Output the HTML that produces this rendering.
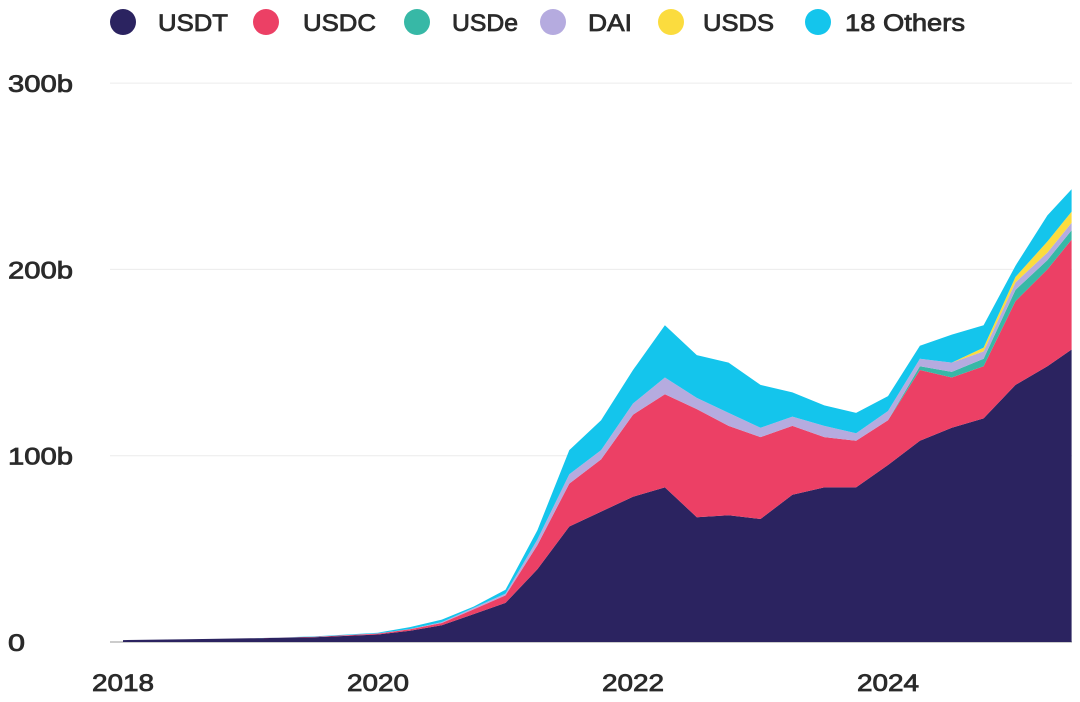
<!DOCTYPE html>
<html><head><meta charset="utf-8"><style>
html,body{margin:0;padding:0;background:#fff;}
body{width:1080px;height:697px;overflow:hidden;font-family:"Liberation Sans",sans-serif;}
svg text{stroke:#2a2a2a;stroke-width:0.8px;}
</style></head><body>
<svg id="chart" width="1080" height="697" xmlns="http://www.w3.org/2000/svg"></svg>
<script>
const years = [2018,2018.5,2019,2019.5,2020,2020.25,2020.5,2020.75,2021,2021.25,2021.5,2021.75,2022,2022.25,2022.5,2022.75,2023,2023.25,2023.5,2023.75,2024,2024.25,2024.5,2024.75,2025,2025.25,2025.44];
const usdt = [1,1.5,2,2.5,4,6,9,15,21,39,62,70,78,83,67,68,66,79,83,83,95,108,115,120,138,148,157];
const usdc = [0,0,0,0.3,0.5,0.8,1.2,2.5,4,13,23,28,44,50,58,48,44,37,27,25,24,38,27,28,45,52,59];
const usde = [0,0,0,0,0,0,0,0,0,0,0,0,0,0,0,0,0,0,0,0,0,2,3,4,6,5,5];
const dai = [0,0,0,0,0.1,0.2,0.5,0.8,1,3,5,5,6,9,6,7,5,5,6,4,5,4,5,4,4,4,4];
const usds = [0,0,0,0,0,0,0,0,0,0,0,0,0,0,0,0,0,0,0,0,0,0,0,2,3,6,6];
const others = [0,0,0,0.2,0.4,1,1.3,0.7,2,5,13,16,18,28,23,27,23,13,11,11,8,7,15,12,6,14,12];
const seriesNames = ["USDT","USDC","USDe","DAI","USDS","18 Others"];
const seriesColors = ["#2b2360","#ec4065","#37b8a6","#b5abdf","#fbdc3e","#14c5ec"];
const yTicks = [0,100,200,300];
const xTicks = [2018,2020,2022,2024];

const svg = document.getElementById('chart');
const NS = "http://www.w3.org/2000/svg";
const x = v => 123 + (v - 2018) * 127.5;
const y = v => 642 - v * 1.863;
function mk(tag, attrs){const e=document.createElementNS(NS,tag);for(const k in attrs)e.setAttribute(k,attrs[k]);svg.appendChild(e);return e;}

yTicks.forEach(t=>{
  const g = mk('line',{x1:110,x2:1072,y1:y(t),y2:y(t),stroke:t===0?'#bbb':'#ececec','stroke-width':t===0?1.5:1});
  
  
  const l = mk('text',{x:8,y:y(t)+9,'font-size':24,fill:'#2a2a2a',textLength:t===0?17:65,lengthAdjust:'spacingAndGlyphs'});
  l.textContent = t===0?'0':t+'b';
  
  
});
xTicks.forEach(t=>{
  const l = mk('text',{x:x(t)-31,y:691,'font-size':24,fill:'#2a2a2a',textLength:62,lengthAdjust:'spacingAndGlyphs'});
  l.textContent = t;
  
  
});

const all = [usdt,usdc,usde,dai,usds,others];
let base = years.map(()=>0);
all.forEach((s,i)=>{
  const top = base.map((b,j)=>b+s[j]);
  let d = 'M'+years.map((yr,j)=>x(yr).toFixed(1)+','+y(top[j]).toFixed(1)).join('L');
  for(let j=years.length-1;j>=0;j--) d += 'L'+x(years[j]).toFixed(1)+','+y(base[j]).toFixed(1);
  d += 'Z';
  const p = mk('path',{d:d,fill:seriesColors[i]});
  
  
  base = top;
});

const legX = [123,266,417,553,671,818];
const legTx = [158,303,452,588,703,845];
const legW = [70,73,66,44,71,120];
seriesNames.forEach((n,i)=>{
  const c = mk('circle',{cx:legX[i],cy:22,r:13,fill:seriesColors[i]});
  
  
  const t = mk('text',{x:legTx[i],y:31,'font-size':24,fill:'#2a2a2a',textLength:legW[i],lengthAdjust:'spacingAndGlyphs'});
  t.textContent = n;
  
  
});
</script>
</body></html>
